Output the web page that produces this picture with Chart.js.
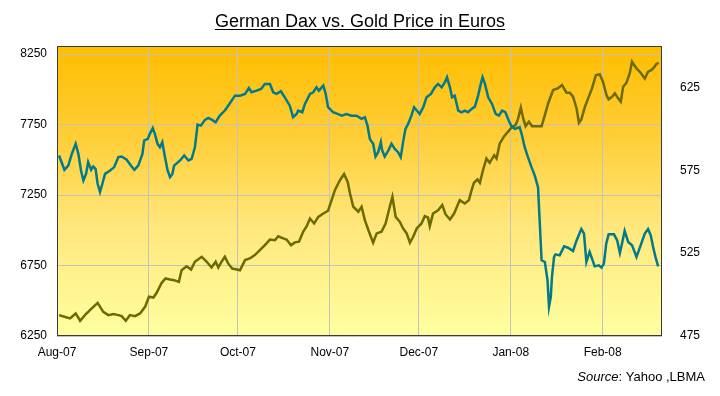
<!DOCTYPE html>
<html>
<head>
<meta charset="utf-8">
<title>German Dax vs. Gold Price in Euros</title>
<script src="https://cdn.jsdelivr.net/npm/chart.js@4.4.0/dist/chart.umd.min.js"></script>
<style>
  html, body { margin: 0; padding: 0; background: #fff; }
  canvas { display: block; }
</style>
</head>
<body>
<canvas id="daxGoldChart" width="720" height="396"></canvas>
<script>
// x values are days counted from 1 Aug 2007
const monthTicks = [0, 31, 61, 92, 122, 153, 184];
const monthLabels = ["Aug-07", "Sep-07", "Oct-07", "Nov-07", "Dec-07", "Jan-08", "Feb-08"];

const daxTicks = [6250, 6750, 7250, 7750, 8250];
const goldTicks = [475, 525, 575, 625];

// German Dax (left axis)
const daxDays = [0.7,2.5,3.8,5.0,6.3,7.2,8.1,8.9,9.8,10.5,
  11.5,12.2,13.0,13.7,14.5,15.3,16.2,17.9,19.3,20.7,
  21.8,23.5,24.9,26.1,27.4,28.8,29.4,30.6,31.3,32.3,
  33.0,33.9,34.7,35.5,36.4,37.3,38.1,38.9,39.5,41.5,
  42.9,44.3,45.4,46.5,47.4,48.5,49.9,51.0,52.3,53.5,
  54.9,56.6,58.3,60.0,61.7,63.4,64.7,65.6,67.3,68.8,
  70.1,71.8,72.9,74.0,75.5,76.8,78.5,79.6,80.8,81.3,
  82.7,83.6,85.3,86.4,87.5,88.3,89.8,90.6,91.4,93.1,
  94.6,96.0,97.6,99.3,101.0,102.7,103.8,104.7,105.5,106.6,
  107.4,108.3,109.2,109.6,110.5,111.7,112.8,113.9,115.0,115.9,
  116.7,117.5,118.4,119.5,120.4,122.3,123.5,124.6,126.1,127.4,
  128.5,129.7,130.8,131.5,132.5,133.2,134.1,135.3,136.4,137.5,
  138.6,139.8,140.9,142.0,142.9,143.5,144.3,145.4,146.7,147.9,
  149.0,150.1,151.2,152.3,153.3,154.4,156.0,156.8,157.7,158.8,
  160.0,161.1,162.2,162.8,163.4,164.5,165.4,165.9,166.5,166.9,
  167.6,168.1,169.5,171.0,172.3,174.0,175.2,176.8,177.7,178.5,
  179.6,180.4,181.3,182.7,183.6,184.4,185.2,186.0,187.8,188.9,
  189.8,190.5,191.4,192.6,193.9,195.4,196.8,198.2,199.3,200.2,
  201.0,201.8,202.7];
const daxValues = [7530,7429,7459,7542,7613,7542,7424,7353,7400,7483,
  7429,7452,7436,7330,7271,7330,7400,7424,7448,7519,
  7523,7500,7459,7429,7459,7542,7636,7648,7684,7724,
  7684,7613,7589,7625,7519,7424,7377,7400,7459,7495,
  7530,7495,7507,7589,7749,7742,7783,7797,7783,7766,
  7813,7849,7901,7955,7955,7967,8009,7979,7990,8002,
  8038,8038,7979,7967,7986,7943,7884,7802,7825,7849,
  7837,7896,7967,7979,8014,7990,8026,7967,7873,7837,
  7825,7813,7825,7813,7813,7790,7802,7742,7648,7613,
  7523,7554,7625,7570,7523,7565,7613,7577,7554,7519,
  7625,7719,7754,7813,7873,7825,7873,7943,7967,8014,
  8038,8014,8050,8085,8014,7943,7955,7849,7837,7849,
  7837,7861,7877,7955,8038,8085,8038,7943,7896,7825,
  7813,7849,7837,7778,7735,7719,7731,7672,7589,7519,
  7448,7388,7306,7046,6787,6775,6645,6457,6527,6669,
  6811,6829,6822,6886,6876,6853,6928,7009,6976,6775,
  6846,6799,6744,6751,6735,6763,6905,6971,6971,6928,
  6839,6905,6995,6917,6893,6811,6893,6976,7009,6964,
  6881,6811,6744];

// Gold price in euros (right axis)
const goldDays = [0.7,2.5,4.4,6.3,7.8,9.4,11.1,13.7,15.6,17.3,
  19.0,20.7,21.8,23.2,24.6,26.3,28.0,29.7,31.0,32.5,
  33.6,35.3,36.6,38.1,39.5,41.1,42.0,43.7,45.2,46.5,
  48.8,50.5,52.1,53.5,54.4,55.5,56.6,57.7,59.1,60.6,
  61.7,63.4,65.0,66.7,68.4,70.1,71.8,73.5,74.6,76.3,
  77.4,78.9,80.2,81.6,83.0,84.2,85.3,86.7,88.1,89.8,
  91.4,92.6,93.7,95.4,96.8,98.0,98.8,99.9,101.6,102.7,
  103.8,105.2,106.6,107.8,109.4,110.8,112.2,113.1,114.2,115.6,
  116.7,117.9,119.0,120.1,121.3,122.9,124.0,125.1,125.7,126.8,
  128.5,129.9,131.0,132.5,133.9,135.8,137.5,138.9,139.8,140.6,
  141.8,142.6,143.7,144.8,145.9,147.4,148.2,149.3,150.8,152.1,
  153.5,154.6,155.5,156.4,157.2,158.0,159.1,160.2,161.8,163.4,
  164.5,165.6,167.3,168.8,170.3,171.8,172.9,174.0,175.2,176.0,
  176.8,178.0,179.1,180.4,181.7,183.0,184.1,185.3,186.0,187.2,
  188.1,189.2,190.1,190.9,192.0,193.1,193.9,195.4,196.8,198.2,
  199.3,200.4,201.3,202.1,202.9];
const goldValues = [487.6,486.6,485.6,488.6,484.2,487.6,490.6,495.0,489.6,487.6,
  488.2,487.6,487.0,484.2,487.6,487.0,488.6,492.6,498.7,498.2,
  501.1,507.1,509.7,509.1,508.7,507.7,514.7,517.1,515.1,519.8,
  522.8,519.8,516.3,519.8,516.3,519.8,522.8,518.8,515.7,515.1,
  514.7,520.8,521.8,523.8,526.8,529.8,533.2,532.8,535.2,533.9,
  533.2,529.8,531.5,531.9,537.9,541.3,545.9,542.9,546.9,548.9,
  550.6,557.0,563.0,569.0,572.7,568.1,561.0,553.0,550.0,553.0,
  544.9,537.9,531.3,536.9,537.9,542.9,553.0,559.0,546.9,543.9,
  539.9,536.9,531.3,534.9,539.9,542.9,547.3,546.5,541.3,548.9,
  550.9,554.0,548.5,545.3,548.9,557.0,555.0,557.0,563.0,567.5,
  569.5,567.5,575.5,582.1,579.5,584.1,582.1,591.2,595.6,598.3,
  601.3,602.2,606.3,612.9,606.3,601.6,604.3,601.6,601.6,601.6,
  608.3,615.3,623.4,624.4,626.4,621.8,621.8,619.4,612.3,603.7,
  605.7,613.3,618.4,624.4,632.4,633.0,628.4,620.3,617.8,619.4,
  621.4,618.4,616.4,625.4,627.8,633.4,640.5,636.5,633.9,630.4,
  634.5,635.4,637.1,639.1,639.9];

const gridColor = "#c4c2bc";
const tickFont = { family: "'Liberation Sans', Arial, sans-serif", size: 12 };

// yellow-to-orange fill behind the plot
const plotBackground = {
  id: "plotBackground",
  beforeDraw(chart) {
    const { ctx, chartArea: a } = chart;
    const g = ctx.createLinearGradient(0, a.top, 0, a.bottom);
    g.addColorStop(0, "#ffbd00");
    g.addColorStop(0.3, "#ffcd35");
    g.addColorStop(0.62, "#ffe77c");
    g.addColorStop(1, "#ffffa0");
    ctx.save();
    ctx.fillStyle = g;
    ctx.fillRect(a.left, a.top, a.right - a.left, a.bottom - a.top);
    ctx.restore();
  }
};

// frame, underlined title and source note
const decorations = {
  id: "decorations",
  afterDraw(chart) {
    const { ctx, chartArea: a } = chart;
    ctx.save();
    ctx.strokeStyle = "#3a3a3a";
    ctx.lineWidth = 1;
    ctx.strokeRect(a.left + 0.5, a.top + 0.5, a.right - a.left - 1, a.bottom - a.top - 1);

    const title = "German Dax vs. Gold Price in Euros";
    ctx.font = "18px 'Liberation Sans Narrow', 'Arial Narrow', sans-serif";
    ctx.fillStyle = "#000";
    ctx.textAlign = "center";
    ctx.textBaseline = "alphabetic";
    ctx.fillText(title, 360, 27);
    const w = ctx.measureText(title).width;
    ctx.fillRect(360 - w / 2, 29, w, 1);

    ctx.textAlign = "left";
    ctx.font = "13px 'Liberation Sans', Arial, sans-serif";
    const rest = ": Yahoo ,LBMA";
    const restW = ctx.measureText(rest).width;
    ctx.font = "italic 13px 'Liberation Sans', Arial, sans-serif";
    const srcW = ctx.measureText("Source").width;
    const x0 = 705 - restW - srcW;
    ctx.fillText("Source", x0, 381);
    ctx.font = "13px 'Liberation Sans', Arial, sans-serif";
    ctx.fillText(rest, x0 + srcW, 381);
    ctx.restore();
  }
};

const ctx = document.getElementById("daxGoldChart").getContext("2d");
new Chart(ctx, {
  type: "line",
  data: {
    datasets: [
      {
        label: "German Dax",
        data: daxDays.map((d, i) => ({ x: d, y: daxValues[i] })),
        yAxisID: "y",
        borderColor: "#007a8c",
        borderWidth: 2.5,
        pointRadius: 0,
        tension: 0
      },
      {
        label: "Gold Price in Euros",
        data: goldDays.map((d, i) => ({ x: d, y: goldValues[i] })),
        yAxisID: "y2",
        borderColor: "#6b6b00",
        borderWidth: 2.5,
        pointRadius: 0,
        tension: 0
      }
    ]
  },
  options: {
    responsive: false,
    animation: false,
    layout: { padding: { top: 46, bottom: 30, left: 0, right: 0 } },
    plugins: {
      legend: { display: false },
      tooltip: { enabled: false }
    },
    scales: {
      x: {
        type: "linear",
        min: 0,
        max: 204,
        afterBuildTicks: s => { s.ticks = monthTicks.map(v => ({ value: v })); },
        afterFit: s => { s.height = 30; },
        ticks: {
          autoSkip: false,
          maxRotation: 0,
          padding: 9,
          color: "#000",
          font: tickFont,
          callback: v => monthLabels[monthTicks.indexOf(v)]
        },
        grid: { color: gridColor, drawTicks: false },
        border: { display: false }
      },
      y: {
        position: "left",
        min: 6250,
        max: 8307,
        afterBuildTicks: s => { s.ticks = daxTicks.map(v => ({ value: v })); },
        afterFit: s => { s.width = 57; },
        ticks: { padding: 10, color: "#000", font: tickFont, callback: v => String(v) },
        grid: { color: gridColor, drawTicks: false },
        border: { display: false }
      },
      y2: {
        position: "right",
        min: 475,
        max: 650,
        afterBuildTicks: s => { s.ticks = goldTicks.map(v => ({ value: v })); },
        afterFit: s => { s.width = 58; },
        ticks: { padding: 18, color: "#000", font: tickFont, callback: v => String(v) },
        grid: { display: false, drawTicks: false },
        border: { display: false }
      }
    }
  },
  plugins: [plotBackground, decorations]
});
</script>
</body>
</html>
